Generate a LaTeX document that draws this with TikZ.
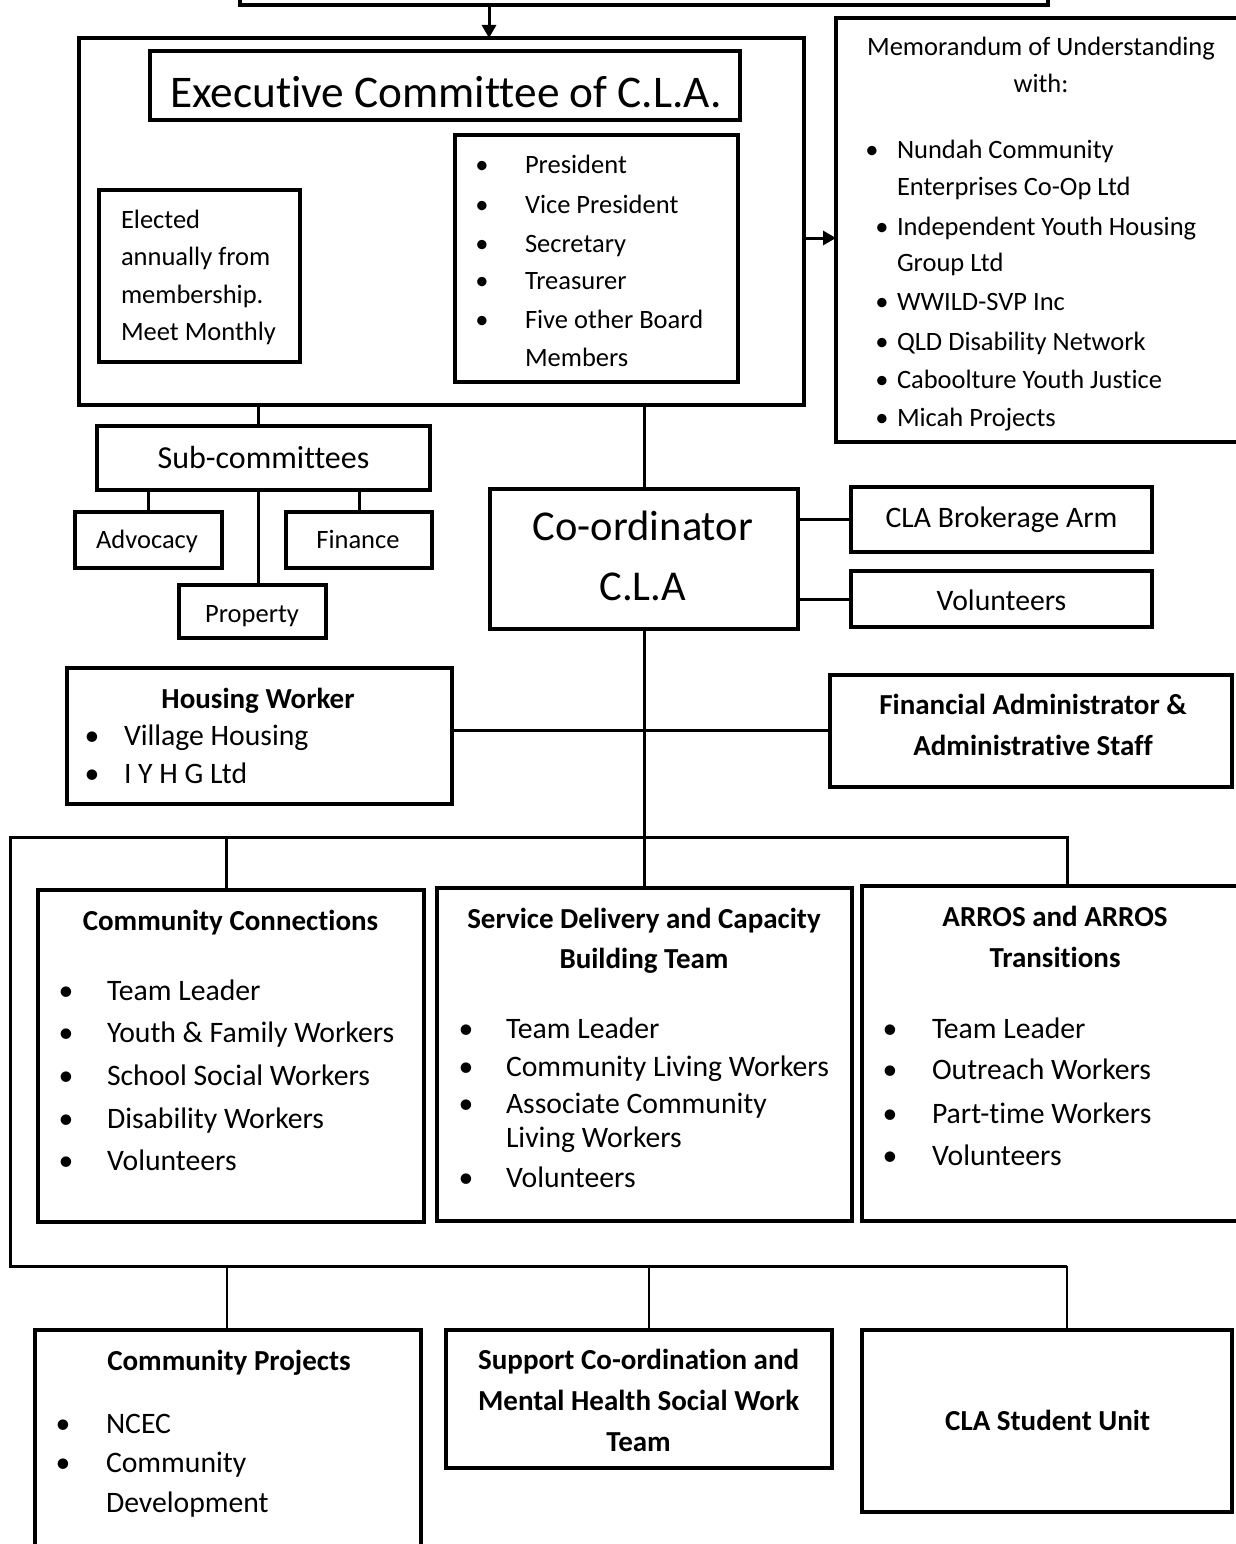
\documentclass[tikz,border=0pt]{standalone}
\usepackage{fontspec}
\setmainfont{Carlito}[Ligatures={NoCommon,NoContextual}]
\usetikzlibrary{arrows.meta}
\newcommand\szS{\fontsize{26.5}{32}\selectfont}
\newcommand\szM{\fontsize{29.7}{35}\selectfont}
\newcommand\szMb{\fontsize{29}{35}\selectfont\bfseries}
\newcommand\szL{\fontsize{32}{38}\selectfont}
\newcommand\szC{\fontsize{42.5}{50}\selectfont}
\newcommand\szX{\fontsize{45.3}{54}\selectfont}
\newcounter{lblc}
\newcommand\lbl[4][]{\stepcounter{lblc}\node[lab,#1] (L\arabic{lblc}) at (#2,#3) {#4};}
\newcommand\bul[5]{\lbl[anchor=base,font=#4]{#1}{#3}{\textbullet}\lbl[anchor=base west,font=#4]{#2}{#3}{#5}}
\newcommand\mkbox[5]{\node[box, minimum width={(#4)-(#2)}, minimum height={(#5)-(#3)}] (#1) at ({((#2)+(#4))/2},{((#3)+(#5))/2}) {};}
\begin{document}
\begin{tikzpicture}[x=1pt,y=-1pt,
  box/.style={draw, line width=3.5pt, inner sep=0pt, outer sep=0pt},
  lab/.style={inner sep=0pt, outer sep=0pt},
  conn/.style={line width=3pt},
  thinconn/.style={line width=2.6pt},
  tip/.style={-{Triangle[length=13pt,width=14pt]}}]
\fill[white] (0,0) rectangle (1235,1544);
\useasboundingbox (0,0) rectangle (1235,1544);

% boxes
\mkbox{topbox}{240}{-60}{1048}{5}
\mkbox{exec}{79}{38}{804}{405}
\mkbox{title}{150}{51}{740}{120}
\mkbox{elected}{99}{190}{300}{362}
\mkbox{officers}{455}{135}{738}{382}
\mkbox{mou}{836}{18}{1300}{442}
\mkbox{sub}{97}{426}{430}{490}
\mkbox{adv}{75}{512}{222}{568}
\mkbox{fin}{286}{512}{432}{568}
\mkbox{prop}{179}{585}{326}{638}
\mkbox{coord}{490}{489}{798}{629}
\mkbox{brok}{851}{487}{1152}{552}
\mkbox{vol}{851}{571}{1152}{627}
\mkbox{housing}{67}{668}{452}{804}
\mkbox{finadm}{830}{675}{1232}{787}
\mkbox{cc}{38}{890}{424}{1222}
\mkbox{sd}{437}{888}{852}{1221}
\mkbox{arros}{862}{886}{1300}{1221}
\mkbox{cp}{35}{1330}{421}{1600}
\mkbox{sup}{446}{1330}{832}{1468}
\mkbox{stu}{862}{1330}{1232}{1512}

% helper coordinates
\coordinate (arrx) at (489,0);
\coordinate (mouy) at (0,238);
\coordinate (sx) at (258,0);
\coordinate (hy) at (0,730);
\coordinate (busTL) at (10,837);
\coordinate (busTR) at (1067,837);
\coordinate (busBL) at (10,1266);
\coordinate (busBR) at (1067,1266);
\coordinate (dcc) at (226,0);
\coordinate (dcp) at (227,0);
\coordinate (dsup) at (649,0);

% connectors
\draw[conn,tip] (topbox.south -| arrx) -- (exec.north -| arrx);
\draw[conn,tip] (exec.east |- mouy) -- (mou.west |- mouy);
\draw[conn] (exec.south -| sx) -- (sub.north -| sx);
\draw[conn] (exec.south -| coord.north) -- (coord.north);
\draw[conn] (sub.south -| adv.north) -- (adv.north);
\draw[conn] (sub.south -| fin.north) -- (fin.north);
\draw[conn] (sub.south -| sx) -- (prop.north -| sx);
\draw[conn] (coord.east |- brok.west) -- (brok.west);
\draw[conn] (coord.east |- vol.west) -- (vol.west);
\draw[conn] (housing.east |- hy) -- (finadm.west |- hy);
\draw[conn] (coord.south) -- (coord.south |- busTL);
\draw[conn] (busBR) -- (busBL) -- (busTL) -- (busTR) -- (busTR |- arros.north);
\draw[conn] (busTL -| dcc) -- (cc.north -| dcc);
\draw[conn] (busTL -| coord.south) -- (sd.north -| coord.south);
\draw[thinconn] (busBL -| dcp) -- (cp.north -| dcp);
\draw[thinconn] (busBL -| dsup) -- (sup.north -| dsup);
\draw[thinconn] (busBR) -- (busBR |- stu.north);

% texts: executive
\lbl[anchor=base,font=\szX]{446}{108}{Executive Committee of C.L.A.}
\lbl[anchor=base west,font=\szS]{121}{228}{Elected}
\lbl[anchor=base west,font=\szS]{121}{265}{annually from}
\lbl[anchor=base west,font=\szS]{121}{303}{membership.}
\lbl[anchor=base west,font=\szS]{121}{340}{Meet Monthly}
\bul{482}{525}{173}{\szS}{President}
\bul{482}{525}{213}{\szS}{Vice President}
\bul{482}{525}{252}{\szS}{Secretary}
\bul{482}{525}{289}{\szS}{Treasurer}
\bul{482}{525}{328}{\szS}{Five other Board}
\lbl[anchor=base west,font=\szS]{525}{366}{Members}

% MOU
\lbl[anchor=base,font=\szS]{1041}{56}{Memorandum of Understanding}
\lbl[anchor=base,font=\szS]{1041}{93}{with:}
\bul{872}{897}{158}{\szS}{Nundah Community}
\lbl[anchor=base west,font=\szS]{897}{195}{Enterprises Co-Op Ltd}
\bul{882}{897}{235}{\szS}{Independent Youth Housing}
\lbl[anchor=base west,font=\szS]{897}{271}{Group Ltd}
\bul{882}{897}{310}{\szS}{WWILD-SVP Inc}
\bul{882}{897}{350}{\szS}{QLD Disability Network}
\bul{882}{897}{388}{\szS}{Caboolture Youth Justice}
\bul{882}{897}{426}{\szS}{Micah Projects}

% sub-committees
\lbl[anchor=base,font=\szL]{263.5}{468}{Sub-committees}
\lbl[anchor=base,font=\szS]{147}{548}{Advocacy}
\lbl[anchor=base,font=\szS]{358}{548}{Finance}
\lbl[anchor=base,font=\szS]{252}{622}{Property}

% coordinator
\lbl[anchor=base,font=\szC]{643}{540}{Co-ordinator}
\lbl[anchor=base,font=\szC]{643}{600}{C.L.A}
\lbl[anchor=base,font=\szM]{1001.5}{527}{CLA Brokerage Arm}
\lbl[anchor=base,font=\szM]{1001.5}{610}{Volunteers}

% housing / finance admin
\lbl[anchor=base,font=\szMb]{258}{708}{Housing Worker}
\bul{92}{124}{745}{\szM}{Village Housing}
\bul{92}{124}{783}{\szM}{I Y H G Ltd}
\lbl[anchor=base,font=\szMb]{1033}{714}{Financial Administrator \&}
\lbl[anchor=base,font=\szMb]{1033}{755}{Administrative Staff}

% community connections
\lbl[anchor=base,font=\szMb]{230.5}{930}{Community Connections}
\bul{66}{107}{1000}{\szM}{Team Leader}
\bul{66}{107}{1042}{\szM}{Youth \& Family Workers}
\bul{66}{107}{1085}{\szM}{School Social Workers}
\bul{66}{107}{1128}{\szM}{Disability Workers}
\bul{66}{107}{1170}{\szM}{Volunteers}

% service delivery
\lbl[anchor=base,font=\szMb]{644}{928}{Service Delivery and Capacity}
\lbl[anchor=base,font=\szMb]{644}{968}{Building Team}
\bul{466}{506}{1038}{\szM}{Team Leader}
\bul{466}{506}{1076}{\szM}{Community Living Workers}
\bul{466}{506}{1113}{\szM}{Associate Community}
\lbl[anchor=base west,font=\szM]{506}{1147}{Living Workers}
\bul{466}{506}{1187}{\szM}{Volunteers}

% ARROS
\lbl[anchor=base,font=\szMb]{1055}{926}{ARROS and ARROS}
\lbl[anchor=base,font=\szMb]{1055}{967}{Transitions}
\bul{890}{932}{1038}{\szM}{Team Leader}
\bul{890}{932}{1079}{\szM}{Outreach Workers}
\bul{890}{932}{1123}{\szM}{Part-time Workers}
\bul{890}{932}{1165}{\szM}{Volunteers}

% bottom row
\lbl[anchor=base,font=\szMb]{229}{1370}{Community Projects}
\bul{63}{106}{1433}{\szM}{NCEC}
\bul{63}{106}{1472}{\szM}{Community}
\lbl[anchor=base west,font=\szM]{106}{1512}{Development}
\lbl[anchor=base,font=\szMb]{638.6}{1369}{Support Co-ordination and}
\lbl[anchor=base,font=\szMb]{638.6}{1410}{Mental Health Social Work}
\lbl[anchor=base,font=\szMb]{638.6}{1451}{Team}
\lbl[anchor=base,font=\szMb]{1047.6}{1430}{CLA Student Unit}
\end{tikzpicture}
\end{document}
